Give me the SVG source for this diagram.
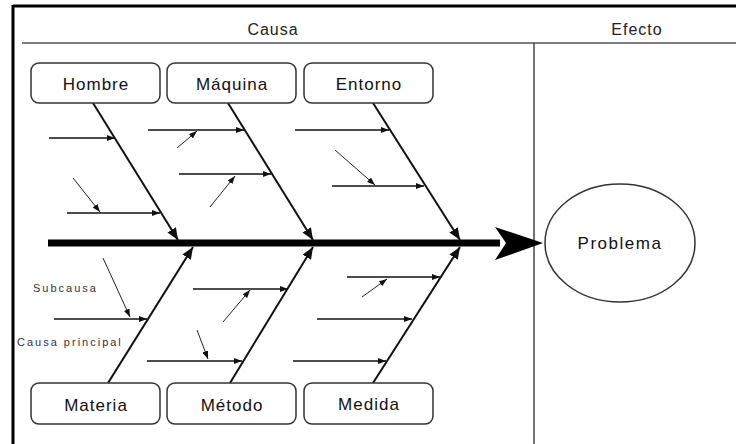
<svg xmlns="http://www.w3.org/2000/svg" width="736" height="444" viewBox="0 0 736 444">
<style>
text{font-family:"Liberation Sans",Arial,sans-serif;fill:#111}
.box{fill:#fff;stroke:#333;stroke-width:1.5}
.lbl{font-size:17px;text-anchor:middle;letter-spacing:1px}
.hdr{font-size:16px;text-anchor:middle;letter-spacing:1px;fill:#222}
.small{font-size:11px;letter-spacing:2px;fill:#333}
.bone{stroke:#111;stroke-width:2;fill:none;marker-end:url(#ab)}
.sub{stroke:#111;stroke-width:1.6;fill:none;marker-end:url(#as)}
.subsub{stroke:#222;stroke-width:1;fill:none;marker-end:url(#as)}
</style>
<defs>
<marker id="ab" markerUnits="userSpaceOnUse" markerWidth="12" markerHeight="10" refX="12" refY="5" orient="auto"><path d="M0,0 L12,5 L0,10 z" fill="#111"/></marker>
<marker id="as" markerUnits="userSpaceOnUse" markerWidth="8" markerHeight="6" refX="8" refY="3" orient="auto"><path d="M0,0 L8,3 L0,6 z" fill="#111"/></marker>
</defs>
<rect width="736" height="444" fill="#fff"/>
<g id="frame">
<line x1="13" y1="6" x2="736" y2="6" stroke="#000" stroke-width="3"/>
<line x1="13" y1="5" x2="13" y2="444" stroke="#000" stroke-width="3"/>
<line x1="22" y1="43" x2="736" y2="43" stroke="#555" stroke-width="1.5"/>
<line x1="534" y1="43" x2="534" y2="444" stroke="#444" stroke-width="1.5"/>
<text class="hdr" x="273" y="35">Causa</text>
<text class="hdr" x="637" y="35">Efecto</text>
</g>
<g id="connectors">
<line x1="48" y1="243" x2="500" y2="243" stroke="#000" stroke-width="7"/>
<polygon points="495,227 543,243 495,260 506,243" fill="#000"/>
<line class="bone" x1="93" y1="103" x2="178" y2="240"/>
<line class="bone" x1="228" y1="103" x2="313" y2="240"/>
<line class="bone" x1="373" y1="103" x2="460" y2="240"/>
<line class="bone" x1="108" y1="383" x2="193" y2="247"/>
<line class="bone" x1="230" y1="383" x2="313" y2="247"/>
<line class="bone" x1="373" y1="383" x2="460" y2="247"/>
<line class="sub" x1="49" y1="138" x2="115" y2="138"/>
<line class="sub" x1="67" y1="213" x2="160" y2="213"/>
<line class="subsub" x1="73" y1="178" x2="100" y2="212"/>
<line class="sub" x1="148" y1="130" x2="244" y2="130"/>
<line class="subsub" x1="177" y1="148" x2="197" y2="131"/>
<line class="sub" x1="179" y1="174" x2="271" y2="174"/>
<line class="subsub" x1="210" y1="207" x2="235" y2="176"/>
<line class="sub" x1="295" y1="130" x2="389" y2="130"/>
<line class="sub" x1="332" y1="186" x2="424" y2="186"/>
<line class="subsub" x1="335" y1="150" x2="375" y2="185"/>
<line class="sub" x1="54" y1="319" x2="147" y2="319"/>
<line class="subsub" x1="103" y1="258" x2="130" y2="317"/>
<line class="sub" x1="147" y1="361" x2="242" y2="361"/>
<line class="subsub" x1="197" y1="330" x2="208" y2="359"/>
<line class="sub" x1="193" y1="289" x2="288" y2="289"/>
<line class="subsub" x1="223" y1="322" x2="250" y2="290"/>
<line class="sub" x1="347" y1="277" x2="440" y2="277"/>
<line class="subsub" x1="362" y1="297" x2="387" y2="279"/>
<line class="sub" x1="317" y1="319" x2="412" y2="319"/>
<line class="sub" x1="293" y1="361" x2="386" y2="361"/>
</g>
<g id="hombre"><rect class="box" x="31" y="63" width="129" height="40" rx="8"/><text class="lbl" x="96" y="90">Hombre</text></g>
<g id="maquina"><rect class="box" x="167" y="63" width="129" height="40" rx="8"/><text class="lbl" x="232" y="90">Máquina</text></g>
<g id="entorno"><rect class="box" x="304" y="63" width="129" height="40" rx="8"/><text class="lbl" x="369" y="90">Entorno</text></g>
<g id="materia"><rect class="box" x="31" y="383" width="129" height="41" rx="8"/><text class="lbl" x="96" y="411">Materia</text></g>
<g id="metodo"><rect class="box" x="167" y="383" width="129" height="41" rx="8"/><text class="lbl" x="232" y="411">Método</text></g>
<g id="medida"><rect class="box" x="304" y="383" width="129" height="41" rx="8"/><text class="lbl" x="369" y="410">Medida</text></g>
<g id="problema"><ellipse cx="620" cy="243" rx="75" ry="59" fill="#fff" stroke="#333" stroke-width="1.5"/><text class="lbl" x="620" y="249" style="font-size:17px;letter-spacing:1.5px">Problema</text></g>
<g id="legend">
<text class="small" x="33" y="292">Subcausa</text>
<text class="small" x="17" y="346">Causa principal</text>
</g>
</svg>
